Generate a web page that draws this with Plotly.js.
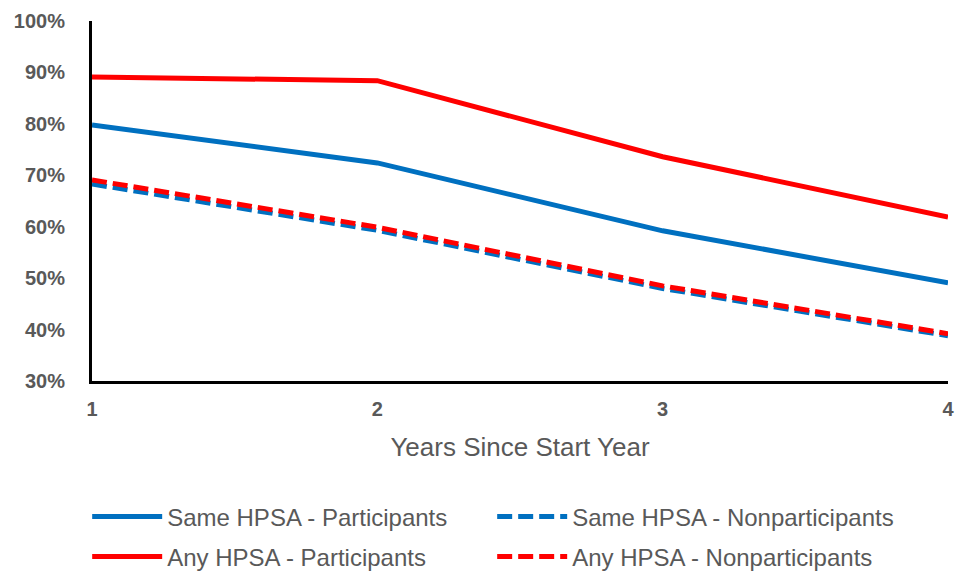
<!DOCTYPE html>
<html>
<head>
<meta charset="utf-8">
<script src="https://cdn.plot.ly/plotly-3.0.1.min.js"></script>
<style>
  html, body { margin: 0; padding: 0; background: #fff; }
  #chart { width: 958px; height: 571px; }
</style>
</head>
<body>
<div id="chart"></div>
<script>
// Years since start year
const years = [1, 2, 3, 4];

// Retention rates (%)
const sameParticipants    = [79.8, 72.4, 59.2, 49.1];
const sameNonparticipants = [68.3, 59.3, 48.0, 38.8];
const anyParticipants     = [89.1, 88.4, 73.6, 61.9];
const anyNonparticipants  = [69.1, 59.9, 48.5, 39.2];

const yTicks = [30, 40, 50, 60, 70, 80, 90, 100];
const yTickText = yTicks.map(v => v + '%');

const BLUE = '#0070C0';
const RED = '#FF0000';
const DASH = '15px,6px';

function series(name, y, color, dash, legend) {
  return {
    type: 'scatter', mode: 'lines', name: name,
    x: years, y: y,
    line: { color: color, width: 5, dash: dash },
    legend: legend,
    hoverinfo: 'skip'
  };
}

const data = [
  series('Same HPSA - Participants', sameParticipants, BLUE, 'solid', 'legend'),
  series('Same HPSA - Nonparticipants', sameNonparticipants, BLUE, DASH, 'legend'),
  series('Any HPSA - Participants', anyParticipants, RED, 'solid', 'legend2'),
  series('Any HPSA - Nonparticipants', anyNonparticipants, RED, DASH, 'legend2')
];

// one legend per row, two entries each
function legendRow(y) {
  return {
    orientation: 'h',
    xref: 'container', yref: 'container',
    x: 0.091, xanchor: 'left',
    y: y, yanchor: 'middle',
    entrywidth: 320, entrywidthmode: 'pixels',
    itemwidth: 70,
    font: { size: 24, color: '#595959' },
    bgcolor: 'rgba(0,0,0,0)'
  };
}

const layout = {
  width: 958, height: 571,
  margin: { l: 92, r: 10, t: 21, b: 190 },
  paper_bgcolor: '#fff', plot_bgcolor: '#fff',
  font: { family: 'Liberation Sans, Arial, sans-serif', color: '#595959' },
  showlegend: true,
  xaxis: {
    range: [1, 4],
    tickvals: years,
    ticktext: years.map(String),
    showgrid: false, zeroline: false,
    showline: true, linecolor: '#000', linewidth: 3,
    ticks: '', ticklabelstandoff: 8,
    tickfont: { size: 20, color: '#595959', weight: 'bold' },
    title: { text: 'Years Since Start Year', font: { size: 26, color: '#595959' }, standoff: 19 }
  },
  yaxis: {
    range: [30, 100],
    tickvals: yTicks,
    ticktext: yTickText,
    showgrid: false, zeroline: false,
    showline: true, linecolor: '#000', linewidth: 3,
    ticks: '', ticklabelstandoff: 20,
    tickfont: { size: 20, color: '#595959', weight: 'bold' }
  },
  legend: legendRow(1 - 517 / 571),
  legend2: legendRow(1 - 557 / 571)
};

Plotly.newPlot('chart', data, layout, { displayModeBar: false, staticPlot: true });
</script>
</body>
</html>
